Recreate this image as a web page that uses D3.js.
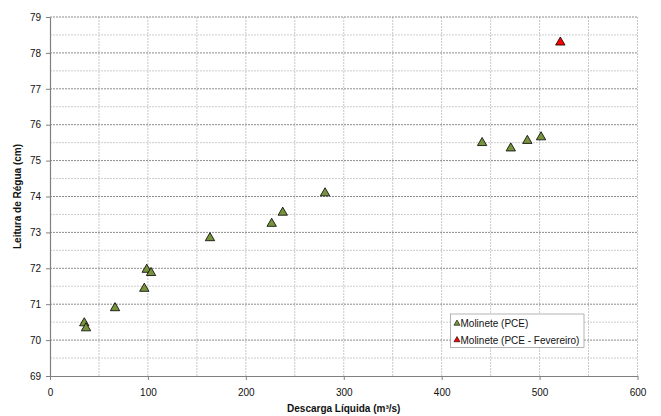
<!DOCTYPE html>
<html>
<head>
<meta charset="utf-8">
<script src="https://cdn.jsdelivr.net/npm/d3@7"></script>
<style>
  body { margin: 0; background: #fff; }
  text { font-family: "Liberation Sans", Arial, sans-serif; fill: #111; }
</style>
</head>
<body>
<div id="chart"></div>
<script>
// Measured points (discharge m3/s, gauge reading cm)
const descargaPCE = [35, 36.8, 66.4, 96.3, 98.8, 103.2, 163.4, 226.4, 237.7, 280.9, 441.3, 470.6, 487.5, 501.5];
const leituraPCE  = [70.51, 70.37, 70.93, 71.47, 72.0, 71.91, 72.88, 73.28, 73.59, 74.13, 75.53, 75.38, 75.59, 75.69];
const descargaFev = [521.2];
const leituraFev  = [78.33];

const xTicks = [0, 100, 200, 300, 400, 500, 600];
const yTicks = [69, 70, 71, 72, 73, 74, 75, 76, 77, 78, 79];
const seriesNames = ["Molinete (PCE)", "Molinete (PCE - Fevereiro)"];
const seriesColors = ["#77933C", "#FF0000"];

const W = 661, H = 416;
const margin = { top: 17, right: 23.5, bottom: 40, left: 50 };

const svg = d3.select("#chart").append("svg")
    .attr("width", W)
    .attr("height", H);

const xScale = d3.scaleLinear().domain([0, 600]).range([margin.left, W - margin.right]);
const yScale = d3.scaleLinear().domain([69, 79]).range([H - margin.bottom, margin.top]);

// Grid: vertical every 50, horizontal major every 1, minor every 0.5
const vGrid = d3.range(50, 601, 50);
svg.append("g").selectAll("line")
    .data(vGrid)
    .enter().append("line")
    .attr("x1", d => xScale(d)).attr("x2", d => xScale(d))
    .attr("y1", yScale(69)).attr("y2", yScale(79))
    .attr("stroke", "#c8c8c8")
    .attr("stroke-dasharray", "2,1");

const hMinor = d3.range(69.5, 79, 1);
svg.append("g").selectAll("line")
    .data(hMinor)
    .enter().append("line")
    .attr("x1", xScale(0)).attr("x2", xScale(600))
    .attr("y1", d => yScale(d)).attr("y2", d => yScale(d))
    .attr("stroke", "#cdcdcd")
    .attr("stroke-dasharray", "2,1");

svg.append("g").selectAll("line")
    .data(yTicks.slice(1))
    .enter().append("line")
    .attr("x1", xScale(0)).attr("x2", xScale(600))
    .attr("y1", d => yScale(d)).attr("y2", d => yScale(d))
    .attr("stroke", "#8c8c8c")
    .attr("stroke-dasharray", "2,1");

// Axes
const xAxis = svg.append("g")
    .attr("transform", `translate(0,${yScale(69)})`)
    .call(d3.axisBottom(xScale).tickValues(xTicks).tickSize(4).tickSizeOuter(0).tickPadding(9));

const yAxis = svg.append("g")
    .attr("transform", `translate(${xScale(0)},0)`)
    .call(d3.axisLeft(yScale).tickValues(yTicks).tickSize(4).tickSizeOuter(0).tickPadding(5));

[xAxis, yAxis].forEach(function(ax) {
    ax.select(".domain").attr("stroke", "#808080").attr("stroke-width", 1.2);
    ax.selectAll(".tick line").attr("stroke", "#808080");
    ax.selectAll(".tick text")
        .style("font-size", "10px")
        .style("font-family", "'Liberation Sans', Arial, sans-serif")
        .attr("fill", "#111");
});

// Axis titles
svg.append("text")
    .attr("x", (xScale(0) + xScale(600)) / 2)
    .attr("y", 412)
    .attr("text-anchor", "middle")
    .style("font-size", "10px")
    .style("font-weight", "bold")
    .text("Descarga Líquida (m³/s)");

svg.append("text")
    .attr("transform", `translate(21,${(yScale(69) + yScale(79)) / 2}) rotate(-90)`)
    .attr("text-anchor", "middle")
    .style("font-size", "10px")
    .style("font-weight", "bold")
    .text("Leitura de Régua (cm)");

// Triangle markers (d3 triangles sit on their centroid, so nudge down to centre the box)
const tri = d3.symbol().type(d3.symbolTriangle).size(38);
const triSmall = d3.symbol().type(d3.symbolTriangle).size(16);
const triOffset = 1.3;

const ptsPCE = descargaPCE.map((d, i) => ({ x: d, y: leituraPCE[i] }));
const ptsFev = descargaFev.map((d, i) => ({ x: d, y: leituraFev[i] }));

svg.append("g").selectAll("path")
    .data(ptsPCE)
    .enter().append("path")
    .attr("d", tri)
    .attr("transform", d => `translate(${xScale(d.x)},${yScale(d.y) + triOffset})`)
    .attr("fill", seriesColors[0])
    .attr("stroke", "#000")
    .attr("stroke-width", 0.8);

svg.append("g").selectAll("path")
    .data(ptsFev)
    .enter().append("path")
    .attr("d", tri)
    .attr("transform", d => `translate(${xScale(d.x)},${yScale(d.y) + triOffset})`)
    .attr("fill", seriesColors[1])
    .attr("stroke", "#000")
    .attr("stroke-width", 0.8);

// Legend
const legend = svg.append("g").attr("transform", "translate(450.5,314)");
legend.append("rect")
    .attr("width", 133.5).attr("height", 33.5)
    .attr("fill", "#fff")
    .attr("stroke", "#a0a0a0")
    .attr("stroke-width", 0.8);

seriesNames.forEach(function(name, i) {
    const yy = 9.5 + i * 16.5;
    legend.append("path")
        .attr("d", triSmall)
        .attr("transform", `translate(6.5,${yy})`)
        .attr("fill", seriesColors[i])
        .attr("stroke", "#000")
        .attr("stroke-width", 0.6);
    legend.append("text")
        .attr("x", 10)
        .attr("y", yy + 3.5)
        .style("font-size", "10px")
        .text(name);
});
</script>
</body>
</html>
